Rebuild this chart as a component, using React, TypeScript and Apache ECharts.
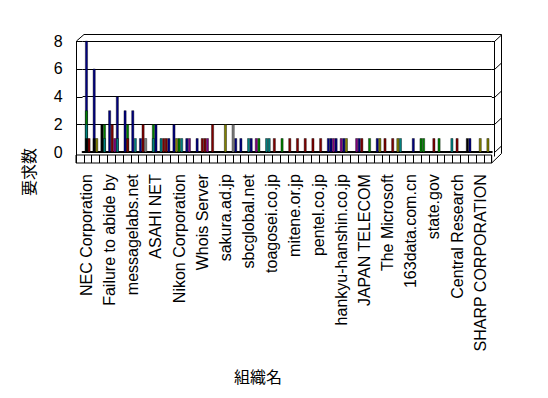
import React, { useEffect, useRef } from "react";
import * as echarts from "echarts";

// Organisations (every third name is printed on the axis)
const categories: string[] = [
  "NEC Corporation", "", "",
  "Failure to abide by", "", "",
  "messagelabs.net", "", "",
  "ASAHI NET", "", "",
  "Nikon Corporation", "", "",
  "Whois Server", "", "",
  "sakura.ad.jp", "", "",
  "sbcglobal.net", "", "",
  "toagosei.co.jp", "", "",
  "mitene.or.jp", "", "",
  "pentel.co.jp", "", "",
  "hankyu-hanshin.co.jp", "", "",
  "JAPAN TELECOM", "", "",
  "The Microsoft", "", "",
  "163data.com.cn", "", "",
  "state.gov", "", "",
  "Central Research", "", "",
  "SHARP CORPORATION", "",
];

const SUBS = 3; // sub-columns per organisation

// [organisation index, sub-column, request count]
const navyData = [
  [0, 1, 8], [1, 1, 6], [3, 1, 3], [4, 1, 4], [5, 1, 3], [6, 1, 3], [7, 1, 1], [9, 1, 2],
  [11, 0, 1], [11, 2, 2], [13, 1, 1], [14, 2, 1], [19, 2, 1], [20, 1, 1], [21, 2, 1],
  [31, 2, 1], [32, 0, 1], [32, 2, 1], [33, 2, 1], [35, 2, 1], [38, 0, 1], [42, 2, 1], [50, 0, 1],
];
const greenData = [
  [0, 1, 3], [2, 2, 2], [5, 2, 2], [9, 0, 2], [12, 1, 1], [22, 2, 1], [25, 2, 1],
  [37, 0, 1], [43, 2, 1], [44, 0, 1], [46, 0, 1],
];
const tealData = [
  [0, 1, 2], [2, 2, 1], [4, 1, 1], [6, 2, 1], [9, 0, 1], [10, 0, 1], [12, 2, 1],
  [21, 1, 1], [23, 2, 1], [24, 0, 1], [41, 0, 1], [47, 2, 1],
];
const maroonData = [
  [0, 2, 1], [3, 2, 2], [5, 2, 1], [7, 2, 2], [10, 1, 1], [10, 2, 1], [15, 1, 1], [15, 2, 1],
  [16, 2, 2], [24, 2, 1], [26, 2, 1], [27, 2, 1], [28, 2, 1], [29, 2, 1], [30, 2, 1],
  [36, 0, 1], [39, 0, 1], [40, 0, 1], [45, 1, 1], [48, 1, 1],
];
const oliveData = [
  [1, 2, 1], [12, 0, 1], [18, 1, 2], [34, 0, 1], [38, 1, 1], [40, 2, 1], [51, 1, 1], [52, 1, 1],
];
const purpleData = [
  [4, 0, 1], [13, 2, 1], [16, 0, 1], [22, 1, 1], [32, 1, 1], [33, 1, 1], [35, 1, 1],
];
const grayData = [[8, 0, 1], [19, 1, 2]];
const blackData = [[0, 1, 1], [1, 1, 1], [2, 1, 2], [49, 2, 1]];

const yTicks = [0, 2, 4, 6, 8];

const seriesDefs = [
  { name: "s1", color: "#000080", data: navyData },
  { name: "s2", color: "#008000", data: greenData },
  { name: "s3", color: "#008080", data: tealData },
  { name: "s4", color: "#800000", data: maroonData },
  { name: "s5", color: "#808000", data: oliveData },
  { name: "s6", color: "#800080", data: purpleData },
  { name: "s7", color: "#808080", data: grayData },
  { name: "s8", color: "#000000", data: blackData },
];

const GRID = { left: 82.6, top: 41, width: 409.2, height: 111.2 };
const FONT = "Liberation Sans";

export default function App() {
  const ref = useRef<HTMLDivElement>(null);

  useEffect(() => {
    if (!ref.current) return;
    const chart = echarts.init(ref.current, null, { renderer: "svg" });
    const slots = Array.from({ length: categories.length * SUBS }, (_, i) => String(i));

    chart.setOption({
      animation: false,
      backgroundColor: "#fff",
      grid: [
        { ...GRID, show: false },
        {
          left: 76, top: 155, width: 415.7, height: 8, show: true,
          borderColor: "#000", borderWidth: 1, backgroundColor: "transparent",
        },
      ],
      xAxis: [
        {
          type: "category", gridIndex: 0, data: categories, boundaryGap: true,
          axisLine: { show: true, lineStyle: { color: "#000", width: 2 } },
          axisTick: { show: false },
          axisLabel: {
            interval: 2, rotate: 90, margin: 22, color: "#000",
            fontFamily: FONT, fontSize: 16,
          },
          splitLine: { show: false },
        },
        {
          type: "category", gridIndex: 0, data: slots, boundaryGap: true, show: false,
        },
        {
          type: "category", gridIndex: 1, data: categories, boundaryGap: true,
          axisLine: { show: false }, axisTick: { show: false }, axisLabel: { show: false },
          splitLine: { show: true, interval: 0, lineStyle: { color: "#000", width: 1 } },
        },
      ],
      yAxis: [
        {
          type: "value", gridIndex: 0, min: yTicks[0], max: yTicks[yTicks.length - 1], interval: 2,
          axisLine: { show: false }, axisTick: { show: false },
          axisLabel: {
            color: "#000", fontFamily: FONT, fontSize: 16, margin: 20,
            padding: [5, 0, 0, 0],
          },
          splitLine: { show: true, lineStyle: { color: "#000", width: 1 } },
        },
        { type: "value", gridIndex: 1, show: false, min: 0, max: 1 },
      ],
      series: seriesDefs.map((s) => ({
        name: s.name,
        type: "bar",
        xAxisIndex: 1,
        yAxisIndex: 0,
        barGap: "-100%",
        barCategoryGap: "0%",
        itemStyle: { color: s.color, borderColor: "#000", borderWidth: 0.4 },
        data: s.data.map(([o, sub, v]) => [o * SUBS + sub, v]),
      })),
    });

    // 3-D frame drawn around the plotting area, placed from the axis scale
    const yPix = (v: number) => chart.convertToPixel({ yAxisIndex: 0 }, v) as number;
    const gl = GRID.left;
    const gr = GRID.left + GRID.width;
    const frontX = 76.5;
    const rightFront = 494.5;
    const rightBack = 501.5;
    const topBack = 34.5;
    const line = (x1: number, y1: number, x2: number, y2: number) => ({
      type: "line",
      silent: true,
      shape: { x1, y1, x2, y2 },
      style: { stroke: "#000", lineWidth: 1 },
    });
    const els: any[] = [];
    els.push(line(frontX, yPix(8), frontX, 163));
    els.push(line(frontX, yPix(8), 84, topBack));
    els.push(line(84, topBack, rightBack, topBack));
    els.push(line(rightFront, yPix(8), rightFront, 156.5));
    els.push(line(rightBack, topBack, rightBack, 153.5));
    els.push(line(491.7, 163, rightBack, 153.5));
    yTicks.forEach((t) => {
      const y = Math.round(yPix(t)) + 0.5;
      if (t > 0) {
        els.push(line(frontX, y, gl, y));
        els.push(line(gr, y, rightFront, y));
      }
      els.push(line(rightFront, y, rightBack, y - 6.5));
    });
    els.push({
      type: "text", silent: true, x: 28, y: 172, rotation: Math.PI / 2,
      style: {
        text: "要求数", font: '16px "Noto Sans CJK JP"', fill: "#000",
        align: "center", verticalAlign: "middle",
      },
    });
    els.push({
      type: "text", silent: true, x: 258, y: 376,
      style: {
        text: "組織名", font: '16px "Noto Sans CJK JP"', fill: "#000",
        align: "center", verticalAlign: "middle",
      },
    });
    chart.setOption({ graphic: els });

    return () => chart.dispose();
  }, []);

  return (
    <div
      ref={ref}
      style={{ position: "fixed", left: 0, top: 0, width: 548, height: 398 }}
    />
  );
}
